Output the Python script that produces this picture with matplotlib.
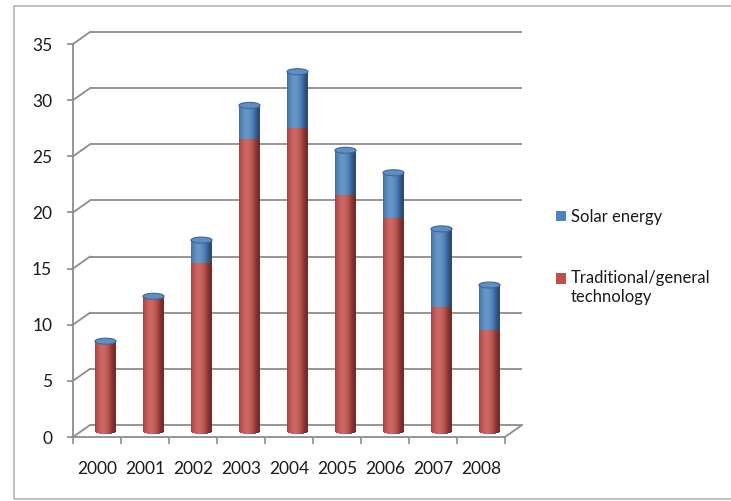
import numpy as np
import matplotlib.pyplot as plt
from matplotlib.patches import Ellipse, Rectangle, Patch
from matplotlib.legend_handler import HandlerPatch
from matplotlib.transforms import ScaledTranslation

plt.rcParams['font.family'] = ['Lato', 'DejaVu Sans']

years = ['2000', '2001', '2002', '2003', '2004', '2005', '2006', '2007', '2008']
traditional = [8, 12, 15, 26, 27, 21, 19, 11, 9]
solar = [0, 0, 2, 3, 5, 4, 4, 7, 4]

red = np.array([0.75, 0.31, 0.30])
blue = np.array([0.31, 0.51, 0.74])
grid_col = '#8c8c8c'
text_col = '#1a1a1a'

W, H, DPI = 731, 501, 100
fig = plt.figure(figsize=(W / DPI, H / DPI), dpi=DPI)
fig.patch.set_facecolor('white')

# plot area (front plane of the 3-D box)
ax_l, ax_b, ax_w, ax_h = 73, 64, 432, 393
ax = fig.add_axes([ax_l / W, ax_b / H, ax_w / W, ax_h / H])
ax.set_xlim(-0.5, 8.5)
ax.set_ylim(0, 35)
ax.patch.set_alpha(0)

# depth offsets: back wall and middle of the box (where the cylinders stand)
back = ax.transData + ScaledTranslation(17 / DPI, 12 / DPI, fig.dpi_scale_trans)
mid = ax.transData + ScaledTranslation(8.5 / DPI, 6 / DPI, fig.dpi_scale_trans)

# back wall gridlines + diagonals to the front axis
yticks = np.arange(0, 36, 5)
ax.hlines(yticks, -0.5, 8.5, colors=grid_col, lw=1.3, transform=back, clip_on=False, zorder=1)
for v in yticks:
    xa, ya = ax.transData.transform((-0.5, v))
    xb, yb = back.transform((-0.5, v))
    ax.plot([xa, xb], [ya, yb], color=grid_col, lw=1.3, transform=None, clip_on=False, zorder=1)
xa, ya = ax.transData.transform((8.5, 0))
xb, yb = back.transform((8.5, 0))
ax.plot([xa, xb], [ya, yb], color=grid_col, lw=1.3, transform=None, clip_on=False, zorder=1)

# cylinders: vertical slices with a horizontal shading profile
bw = 0.44
n = 28
units_per_px = 35 / ax_h
e = 3.0 * units_per_px  # half height of the end ellipses
edges = np.linspace(-1, 1, n + 1)
u = (edges[:-1] + edges[1:]) / 2
shade = 1.12 - 0.5 * (u + 0.25) ** 2
shade = np.clip(shade, 0.58, 1.15)


def tint(base, f):
    c = base * f
    if f > 1:
        c = base + (1 - base) * (f - 1) * 1.2
    return np.clip(c, 0, 1)


for i, (t, s) in enumerate(zip(traditional, solar)):
    xs = i + u * bw / 2
    sw = bw / n * 1.25
    curve = e * np.sqrt(1 - u ** 2)
    for k in range(n):
        ax.bar(xs[k], t + curve[k], bottom=-curve[k], width=sw,
               color=tint(red, shade[k]), lw=0, transform=mid, clip_on=False, zorder=2)
        if s > 0:
            ax.bar(xs[k], s, bottom=t, width=sw,
                   color=tint(blue, shade[k]), lw=0, transform=mid, clip_on=False, zorder=2)
    cap = Ellipse((i, t + s), bw, 2 * e, facecolor=tint(blue, 1.08),
                  edgecolor=tint(blue, 0.8), lw=0.8, transform=mid, clip_on=False, zorder=3)
    ax.add_patch(cap)

# front axes
for side in ('top', 'right'):
    ax.spines[side].set_visible(False)
for side in ('left', 'bottom'):
    ax.spines[side].set_color(grid_col)
    ax.spines[side].set_linewidth(1.3)
    ax.spines[side].set_zorder(4)

ax.set_yticks(yticks)
ax.set_yticklabels([str(v) for v in yticks])
ax.tick_params(axis='y', direction='out', length=4, width=1.2, color=grid_col,
               labelsize=12.5, labelcolor=text_col, pad=11)
ax.set_xticks(range(len(years)))
ax.set_xticklabels(years)
ax.tick_params(axis='x', length=0, labelsize=12.5, labelcolor=text_col, pad=17)
ax.set_xticks(np.arange(-0.5, 9, 1), minor=True)
ax.tick_params(axis='x', which='minor', direction='out', length=5, width=1.2, color=grid_col)


class FirstLineHandler(HandlerPatch):
    """Square marker aligned with the first line of a wrapped label."""

    def __init__(self, shift=0.0, **kw):
        super().__init__(**kw)
        self.shift = shift

    def create_artists(self, legend, orig_handle, xdescent, ydescent,
                       width, height, fontsize, trans):
        p = Rectangle((-xdescent, -ydescent + self.shift), width, height)
        self.update_prop(p, orig_handle, legend)
        p.set_transform(trans)
        return [p]


# legend
solar_h = Patch(facecolor=blue)
trad_h = Patch(facecolor=red)
labels = ['Solar energy', 'Traditional/general\ntechnology']
fig.legend([solar_h, trad_h], labels, loc='upper left',
           bbox_to_anchor=(541 / W, 1 - 194 / H),
           frameon=False, fontsize=12, labelcolor=text_col, handlelength=0.6,
           handleheight=0.6, handletextpad=0.3, labelspacing=2.73,
           handler_map={trad_h: FirstLineHandler(shift=7.2)})

# chart border
fig.add_artist(Rectangle((14 / W, 2 / H), 1, 1 - 8 / H, transform=fig.transFigure,
                         fill=False, edgecolor='#b4b4b4', lw=1.2))

fig.savefig('out.png', dpi=DPI)
